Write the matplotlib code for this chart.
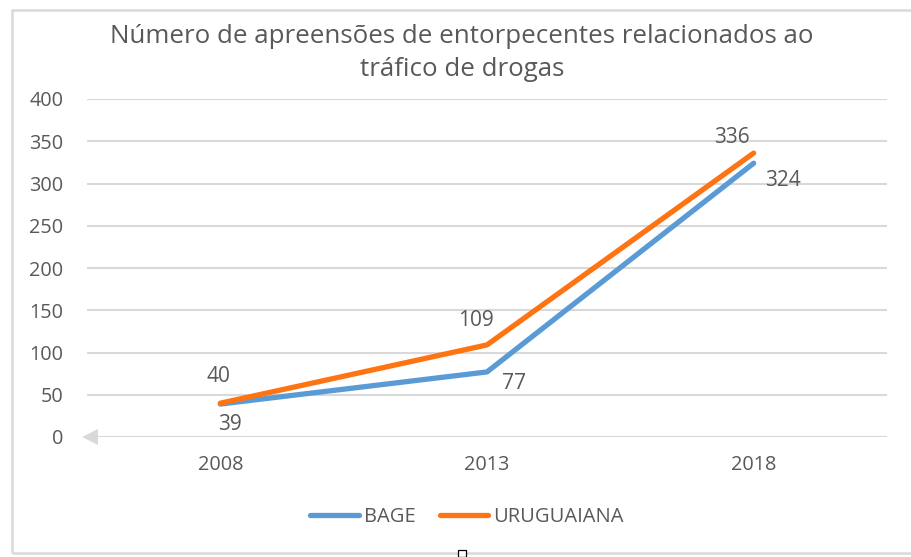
import matplotlib
matplotlib.use("Agg")
import matplotlib.pyplot as plt
from matplotlib.patches import Rectangle
from matplotlib.lines import Line2D

plt.rcParams['font.family'] = ['Open Sans', 'DejaVu Sans']

years = ["2008", "2013", "2018"]
bage = [39, 77, 324]
uruguaiana = [40, 109, 336]
yticks = [0, 50, 100, 150, 200, 250, 300, 350, 400]
title = "Número de apreensões de entorpecentes relacionados ao\ntráfico de drogas"

BLUE = "#5B9BD5"
ORANGE = "#FF7412"
TXT = "#595959"
GRID = "#D9D9D9"

W, H = 911, 557
fig = plt.figure(figsize=(W / 100, H / 100), dpi=100)
ax = fig.add_axes([87 / W, (H - 437) / H, 800 / W, 338 / H])

x = list(range(len(years)))
ax.set_xlim(-0.5, len(years) - 0.5)
ax.set_ylim(0, 400)
for yv in yticks[1:]:
    ax.axhline(yv, color=GRID, lw=1.5, zorder=0)
# zero axis with arrow head on the left
ax.axhline(0, color=GRID, lw=1.5, zorder=0)
ax.plot([-0.49], [0], marker='<', markersize=11, color=GRID, clip_on=False, zorder=1,
        markeredgewidth=0)

ax.plot(x, bage, color=BLUE, lw=3.8, solid_capstyle='round', zorder=3)
ax.plot(x, uruguaiana, color=ORANGE, lw=3.8, solid_capstyle='round', zorder=4)

for s in ax.spines.values():
    s.set_visible(False)
ax.set_yticks(yticks)
ax.set_yticklabels([str(v) for v in yticks])
ax.set_xticks(x)
ax.set_xticklabels(years)
ax.tick_params(length=0, colors=TXT, labelsize=14.3)
ax.tick_params(axis='y', pad=17)
ax.tick_params(axis='x', pad=13)
for lab in ax.get_yticklabels():
    lab.set_horizontalalignment('right')

fs = 15
# data labels
b_off = [(10, -20), (27, -12), (29, -17)]
u_off = [(-2, 27), (-11, 24), (-22, 16)]
for i in x:
    ax.annotate(str(bage[i]), (i, bage[i]), xytext=b_off[i], textcoords='offset pixels',
                ha='center', va='center', color=TXT, fontsize=fs)
    ax.annotate(str(uruguaiana[i]), (i, uruguaiana[i]), xytext=u_off[i], textcoords='offset pixels',
                ha='center', va='center', color=TXT, fontsize=fs)

fig.text(462 / W, 1 - 53 / H, title, ha='center', va='center', color=TXT,
         fontsize=18.6, linespacing=1.45)

# legend
handles = [Line2D([0], [0], color=BLUE, lw=3.8, solid_capstyle='round'),
           Line2D([0], [0], color=ORANGE, lw=3.8, solid_capstyle='round')]
fig.legend(handles, ["BAGE", "URUGUAIANA"], loc='center', bbox_to_anchor=(467 / W, 1 - 517 / H),
           ncol=2, frameon=False, fontsize=14.5, labelcolor=TXT, handlelength=2.4,
           handletextpad=0.25, columnspacing=1.2)

# outer chart border
fig.patches.append(Rectangle((12 / W, (H - 553) / H), 1.2, 543 / H, transform=fig.transFigure,
                             fill=False, edgecolor=GRID, lw=1.8))
# small selection handle
fig.patches.append(Rectangle((458 / W, (H - 557) / H), 8 / W, 7 / H, transform=fig.transFigure,
                             facecolor='white', edgecolor='black', lw=0.9, zorder=5))

fig.savefig("out.png", dpi=100)
